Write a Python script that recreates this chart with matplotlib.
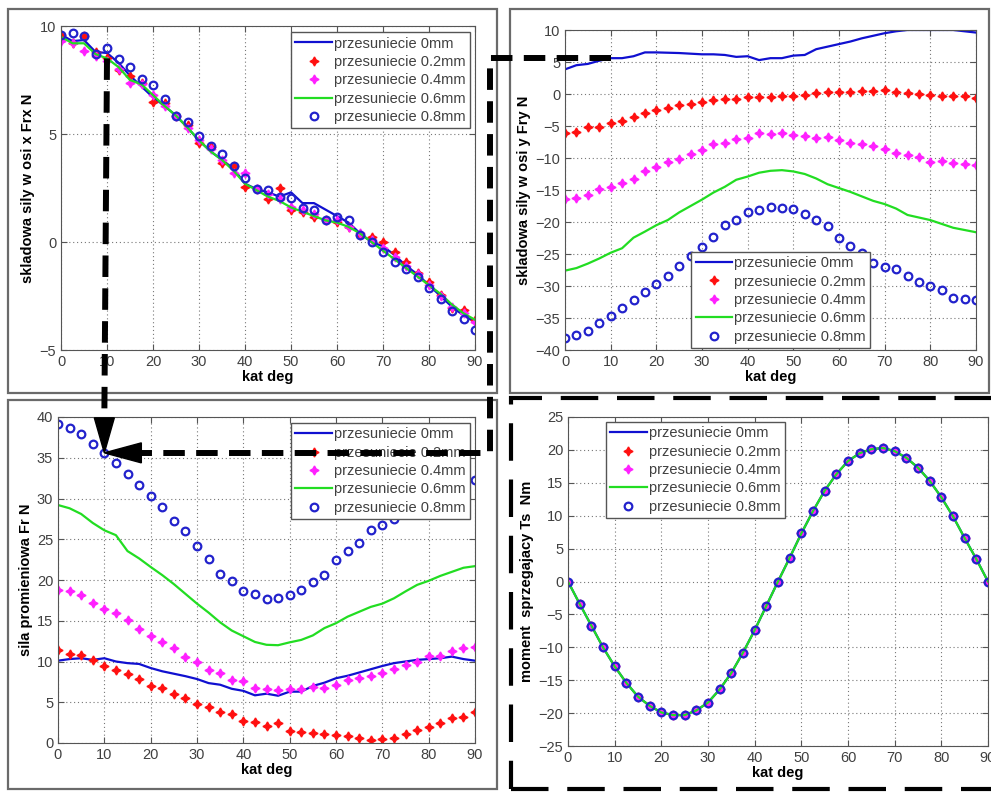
import matplotlib
matplotlib.use('Agg')
import matplotlib.pyplot as plt
from matplotlib.lines import Line2D
from matplotlib.patches import Polygon, Rectangle

plt.rcParams['font.family'] = ['Liberation Sans', 'DejaVu Sans']

# kat [deg], co 2.5 stopnia
kat = [i * 2.5 for i in range(37)]
labels = ['przesuniecie 0mm', 'przesuniecie 0.2mm', 'przesuniecie 0.4mm',
          'przesuniecie 0.6mm', 'przesuniecie 0.8mm']

# skladowa Frx
frx_0 = [9.6, 9.3, 9.35, 8.8, 8.75, 8.3, 7.7, 7.2, 6.7, 6.3, 5.85, 5.3, 4.7, 4.2, 3.8, 3.4,
         2.7, 2.45, 2.3, 2.1, 2.3, 1.8, 1.8, 1.5, 1.2, 0.9, 0.4, 0.0, -0.2, -0.6, -1.1, -1.5,
         -2.0, -2.5, -3.0, -3.4, -3.7]
frx_02 = [9.58, 9.23, 9.54, 8.8, 8.5, 7.96, 7.69, 7.35, 6.5, 6.42, 5.85, 5.42, 4.57, 4.41,
          3.64, 3.53, 2.56, 2.44, 1.98, 2.48, 1.48, 1.4, 1.17, 1.02, 0.94, 0.71, 0.32, 0.22,
          0.02, -0.45, -0.91, -1.45, -1.84, -2.45, -3.07, -3.15, -3.61]
frx_04 = [9.3, 9.2, 8.85, 8.6, 8.4, 8.0, 7.35, 7.3, 6.8, 6.3, 5.85, 5.3, 4.7, 4.3, 3.8, 3.2,
          3.2, 2.45, 2.2, 2.0, 1.6, 1.5, 1.3, 1.0, 1.0, 0.7, 0.4, 0.1, -0.3, -0.7, -1.1, -1.5,
          -2.0, -2.5, -3.0, -3.3, -3.7]
frx_06 = [9.5, 9.2, 9.2, 8.7, 8.5, 8.1, 7.5, 7.3, 6.8, 6.3, 5.85, 5.3, 4.7, 4.2, 3.8, 3.3,
          2.7, 2.4, 2.1, 1.9, 1.6, 1.4, 1.2, 1.0, 0.9, 0.7, 0.4, 0.0, -0.4, -0.8, -1.2, -1.6,
          -2.0, -2.4, -2.9, -3.3, -3.6]
frx_08 = [9.58, 9.66, 9.54, 8.7, 9.0, 8.47, 8.12, 7.56, 7.27, 6.6, 5.85, 5.56, 4.9, 4.44,
          4.09, 3.53, 2.98, 2.44, 2.41, 2.1, 2.02, 1.56, 1.48, 1.02, 1.14, 1.02, 0.32, 0.02,
          -0.48, -0.94, -1.27, -1.64, -2.15, -2.64, -3.18, -3.58, -4.07]

# skladowa Fry
fry_0 = [3.85, 4.5, 4.7, 5.2, 5.6, 5.6, 5.9, 6.5, 6.5, 6.45, 6.4, 6.3, 6.2, 6.2, 6.1, 5.8,
         5.9, 5.3, 5.6, 5.6, 6.0, 6.1, 7.0, 7.4, 7.8, 8.2, 8.7, 9.1, 9.5, 9.8, 10.0, 10.0,
         10.0, 10.0, 10.0, 9.8, 9.6]
fry_02 = [-6.15, -5.9, -5.2, -5.1, -4.5, -4.2, -3.65, -2.9, -2.5, -2.25, -1.7, -1.55, -1.2,
          -0.95, -0.75, -0.75, -0.5, -0.4, -0.4, -0.3, -0.3, -0.2, 0.1, 0.3, 0.3, 0.35, 0.5,
          0.5, 0.55, 0.3, 0.1, 0.0, -0.15, -0.3, -0.3, -0.3, -0.7]
fry_04 = [-16.4, -16.3, -15.8, -14.9, -14.5, -13.9, -13.3, -12.0, -11.35, -10.7, -10.15,
          -9.3, -8.75, -7.8, -7.6, -7.1, -6.8, -6.15, -6.25, -6.05, -6.4, -6.55, -6.8, -6.7,
          -7.2, -7.6, -7.8, -8.2, -8.55, -9.15, -9.5, -9.9, -10.55, -10.4, -10.8, -10.95,
          -11.15]
fry_06 = [-27.6, -27.2, -26.5, -25.7, -24.8, -24.1, -22.45, -21.5, -20.5, -19.7, -18.5,
          -17.5, -16.5, -15.4, -14.5, -13.4, -12.9, -12.3, -12.0, -11.9, -12.1, -12.5, -13.2,
          -14.1, -14.7, -15.3, -16.0, -16.7, -17.2, -17.9, -18.9, -19.3, -19.7, -20.3, -20.9,
          -21.25, -21.6]
fry_08 = [-38.2, -37.7, -37.0, -35.8, -34.7, -33.5, -32.2, -31.0, -29.7, -28.4, -26.8,
          -25.3, -23.9, -22.4, -20.5, -19.7, -18.5, -18.2, -17.6, -17.8, -18.0, -18.8, -19.7,
          -20.7, -22.45, -23.75, -24.9, -26.35, -27.0, -27.4, -28.4, -29.3, -30.0, -30.7,
          -31.8, -32.1, -32.2]

# sila promieniowa Fr
fr_0 = [10.1, 10.3, 10.4, 10.2, 10.4, 10.0, 9.8, 9.7, 9.2, 8.8, 8.5, 8.2, 7.85, 7.35, 7.15,
        6.65, 6.4, 5.85, 6.05, 5.8, 6.3, 6.3, 7.0, 7.4, 7.95, 8.25, 8.65, 9.05, 9.45, 9.8,
        10.0, 10.2, 10.3, 10.4, 10.6, 10.3, 10.1]
fr_02 = [11.4, 10.9, 10.8, 10.2, 9.5, 8.9, 8.45, 7.9, 6.95, 6.8, 6.05, 5.5, 4.8, 4.4, 3.75,
         3.5, 2.65, 2.55, 2.05, 2.45, 1.45, 1.35, 1.2, 1.15, 0.95, 0.8, 0.6, 0.4, 0.5, 0.6,
         1.1, 1.55, 1.95, 2.5, 3.1, 3.25, 3.75]
fr_04 = [18.8, 18.65, 18.1, 17.2, 16.5, 15.9, 15.1, 14.0, 13.1, 12.4, 11.6, 10.6, 10.0, 9.0,
         8.65, 7.7, 7.55, 6.75, 6.6, 6.45, 6.6, 6.6, 6.9, 6.8, 7.1, 7.7, 8.0, 8.2, 8.6, 9.1,
         9.6, 10.0, 10.7, 10.7, 11.3, 11.6, 11.75]
fr_06 = [29.2, 28.8, 28.1, 27.0, 26.1, 25.5, 23.55, 22.65, 21.6, 20.6, 19.5, 18.3, 17.1,
         16.0, 14.8, 13.8, 13.1, 12.4, 12.05, 12.0, 12.35, 12.65, 13.2, 14.1, 14.7, 15.5,
         16.1, 16.7, 17.1, 17.75, 18.6, 19.4, 19.9, 20.5, 21.0, 21.5, 21.7]
fr_08 = [39.2, 38.65, 37.95, 36.7, 35.6, 34.4, 33.0, 31.7, 30.3, 28.9, 27.3, 26.0, 24.2,
         22.6, 20.7, 19.9, 18.6, 18.3, 17.7, 17.75, 18.1, 18.8, 19.7, 20.6, 22.4, 23.6, 24.6,
         26.1, 26.7, 27.5, 28.5, 29.3, 30.0, 30.5, 31.2, 31.7, 32.3]

# moment sprzegajacy Ts (krzywe pokrywaja sie)
ts_vals = [0.0, -3.4, -6.7, -10.0, -12.9, -15.4, -17.5, -18.9, -19.9, -20.3, -20.3, -19.6,
           -18.4, -16.4, -13.9, -10.8, -7.4, -3.7, 0.0, 3.6, 7.3, 10.7, 13.8, 16.3, 18.3,
           19.5, 20.1, 20.3, 19.8, 18.8, 17.3, 15.3, 12.8, 9.9, 6.6, 3.4, 0.0]

W, H = 991, 792
fig = plt.figure(figsize=(W / 100, H / 100), dpi=100)


def px_rect(l, t, r, b):
    return [l / W, 1 - b / H, (r - l) / W, (b - t) / H]


def px_fig(x, y):
    return (x / W, 1 - y / H)


def draw_panel(ax, series, ylabel, yticks, ylim, leg_loc, leg_anchor):
    s0, s2, s4, s6, s8 = series
    ax.plot(kat, s0, color='#1010d0', lw=1.6, label=labels[0])
    ax.plot(kat, s2, ls='none', marker=(4, 1, 0), ms=6.5, color='#ff1010', label=labels[1])
    ax.plot(kat, s4, ls='none', marker=(4, 1, 0), ms=6.5, color='#ff20ff', label=labels[2])
    ax.plot(kat, s6, color='#22dd22', lw=1.6, label=labels[3])
    ax.plot(kat, s8, ls='none', marker='o', ms=5.5, mfc='none', mec='#2222cc', mew=1.6,
            label=labels[4])
    ax.set_xlim(0, 90)
    ax.set_ylim(*ylim)
    ax.set_xticks(range(0, 91, 10))
    ax.set_yticks(yticks)
    ax.grid(True, ls=(0, (1, 2.5)), color='#777777', lw=0.8)
    ax.tick_params(direction='in', top=True, right=True, length=4, labelsize=10.5,
                   labelcolor='#404040', color='#555555')
    for sp in ax.spines.values():
        sp.set_color('#555555')
    ax.set_xlabel('kat deg', fontsize=10.5, fontweight='bold', labelpad=1)
    ax.set_ylabel(ylabel, fontsize=10.5, fontweight='bold', labelpad=3)
    leg = ax.legend(loc=leg_loc, bbox_to_anchor=leg_anchor, borderaxespad=0, fontsize=10.5,
                    fancybox=False, framealpha=1, edgecolor='#555555', handlelength=2.5,
                    handletextpad=0.15, labelspacing=0.3, borderpad=0.3, numpoints=1)
    for t in leg.get_texts():
        t.set_color('#404040')
    leg.get_frame().set_linewidth(1.0)


ax_tl = fig.add_axes(px_rect(61, 26, 475, 350))
ax_tr = fig.add_axes(px_rect(565, 30, 976, 350))
ax_bl = fig.add_axes(px_rect(58, 417, 475, 743))
ax_br = fig.add_axes(px_rect(568, 417, 988, 746))

draw_panel(ax_tl, [frx_0, frx_02, frx_04, frx_06, frx_08], 'skladowa sily w osi x Frx N',
           [-5, 0, 5, 10], (-5, 10), 'upper right', (0.988, 0.981))
draw_panel(ax_tr, [fry_0, fry_02, fry_04, fry_06, fry_08], 'skladowa sily w osi y Fry N',
           range(-40, 11, 5), (-40, 10), 'lower center', (0.525, 0.006))
draw_panel(ax_bl, [fr_0, fr_02, fr_04, fr_06, fr_08], 'sila promieniowa Fr N',
           range(0, 41, 5), (0, 40), 'upper right', (0.988, 0.982))
draw_panel(ax_br, [ts_vals] * 5, 'moment  sprzegajacy Ts  Nm',
           range(-25, 26, 5), (-25, 25), 'upper left', (0.09, 0.985))

# ramki paneli
for l, t, r, b in [(8, 9, 497, 393), (8, 400, 497, 789), (510, 9, 989, 393)]:
    x0, y1 = px_fig(l, t)
    x1, y0 = px_fig(r, b)
    fig.add_artist(Rectangle((x0, y0), x1 - x0, y1 - y0, transform=fig.transFigure,
                             fill=False, ec='#6a6a6a', lw=1.6))
x0, y1 = px_fig(511, 398)
x1, y0 = px_fig(995, 789)
fig.add_artist(Rectangle((x0, y0), x1 - x0, y1 - y0, transform=fig.transFigure, fill=False,
                         ec='black', lw=3, ls=(0, (9, 4.5))))

# strzalki
to_fig = fig.transFigure.inverted()


def fig_pt(ax, x, y):
    return to_fig.transform(ax.transData.transform((x, y)))


target = fig_pt(ax_bl, kat[4], fr_08[4])
start_v = fig_pt(ax_tl, kat[4], frx_06[4])
start_h = fig_pt(ax_tr, kat[4], fry_0[4])
elbow_x = 490 / W
head_len_x, head_len_y = 37 / W, 35 / H
head_w_x, head_w_y = 10 / W, 10 / H
dash = dict(color='black', lw=4.3, ls=(0, (3.6, 1.9)), transform=fig.transFigure,
            solid_capstyle='butt', dash_capstyle='butt')

fig.add_artist(Line2D([start_v[0], target[0]], [start_v[1], target[1] + head_len_y], **dash))
fig.add_artist(Line2D([start_h[0], elbow_x, elbow_x, target[0] + head_len_x],
                      [start_h[1], start_h[1], target[1], target[1]], **dash))
fig.add_artist(Polygon([(target[0], target[1]),
                        (target[0] - head_w_x, target[1] + head_len_y),
                        (target[0] + head_w_x, target[1] + head_len_y)],
                       closed=True, transform=fig.transFigure, color='black'))
fig.add_artist(Polygon([(target[0], target[1]),
                        (target[0] + head_len_x, target[1] + head_w_y),
                        (target[0] + head_len_x, target[1] - head_w_y)],
                       closed=True, transform=fig.transFigure, color='black'))

fig.savefig('out.png', dpi=100)
